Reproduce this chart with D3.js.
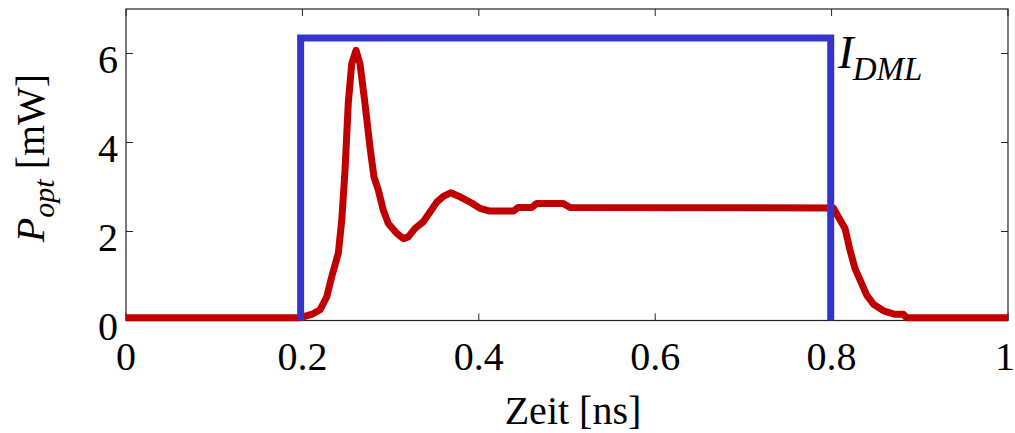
<!DOCTYPE html>
<html>
<head>
<meta charset="utf-8">
<script src="https://cdn.jsdelivr.net/npm/d3@7"></script>
<style>
  html, body { margin: 0; padding: 0; background: #fff; }
  svg { display: block; }
  text { font-family: "Liberation Serif", "Times New Roman", serif; fill: #000; }
</style>
</head>
<body>
<svg id="chart" width="1015" height="433"></svg>
<script>
// Optical output power of the laser (ns, mW)
const timeNs = [0, 0.197, 0.212, 0.220, 0.2276, 0.2332, 0.2407, 0.2446, 0.2483, 0.2520, 0.2559,
  0.2608, 0.2653, 0.2710, 0.2766, 0.2812, 0.2861, 0.2917, 0.2974, 0.3069, 0.3144, 0.3201,
  0.3277, 0.3371, 0.3447, 0.3523, 0.3598, 0.3681, 0.3787, 0.3919, 0.4014, 0.4127, 0.4391,
  0.4448, 0.4600, 0.4656, 0.4958, 0.5034, 0.802, 0.8076, 0.8152, 0.8209, 0.8265, 0.8341,
  0.8398, 0.8473, 0.8586, 0.8662, 0.8719, 0.8813, 0.8851, 1.0];
const powerMw = [0.06, 0.06, 0.15, 0.24, 0.53, 0.98, 1.51, 2.25, 3.37, 4.88, 5.77,
  6.07, 5.77, 4.87, 3.90, 3.22, 2.93, 2.48, 2.18, 1.96, 1.84, 1.88,
  2.07, 2.22, 2.44, 2.66, 2.79, 2.87, 2.78, 2.64, 2.52, 2.46, 2.46,
  2.54, 2.54, 2.63, 2.63, 2.54, 2.53, 2.33, 2.07, 1.58, 1.17, 0.83,
  0.57, 0.37, 0.22, 0.17, 0.14, 0.14, 0.06, 0.06];

// Drive current pulse (drawn in the same axes)
const pulseT = [0.198, 0.198, 0.799, 0.799];
const pulseI = [0, 6.35, 6.35, 0];

const xTicks = [0, 0.2, 0.4, 0.6, 0.8, 1];
const yTicks = [0, 2, 4, 6];

const svg = d3.select("#chart");
const plotL = 126, plotR = 1008, plotT = 9, plotB = 320.5;

const x = d3.scaleLinear().domain([0, 1]).range([plotL, plotR]);
const y = d3.scaleLinear().domain([0, 7]).range([plotB, plotT]);

const tickLen = 7;

// Ticks (inward) on all four sides
const axisG = svg.append("g").attr("stroke", "#222").attr("stroke-width", 1);
xTicks.forEach(t => {
  axisG.append("line").attr("x1", x(t)).attr("x2", x(t)).attr("y1", plotB).attr("y2", plotB - tickLen);
  axisG.append("line").attr("x1", x(t)).attr("x2", x(t)).attr("y1", plotT).attr("y2", plotT + tickLen);
});
yTicks.forEach(t => {
  axisG.append("line").attr("x1", plotL).attr("x2", plotL + tickLen).attr("y1", y(t)).attr("y2", y(t));
  axisG.append("line").attr("x1", plotR).attr("x2", plotR - tickLen).attr("y1", y(t)).attr("y2", y(t));
});

// Frame
svg.append("rect")
  .attr("x", plotL).attr("y", plotT)
  .attr("width", plotR - plotL).attr("height", plotB - plotT)
  .attr("fill", "none").attr("stroke", "#222").attr("stroke-width", 1.2);

// Tick labels; the last one is nudged left so it stays inside the figure
svg.append("g").selectAll("text").data(xTicks).join("text")
  .attr("x", d => x(d) - (d === 1 ? 3 : 0)).attr("y", 370)
  .attr("text-anchor", "middle").attr("font-size", 40)
  .text(d => d3.format("~g")(d));

svg.append("g").selectAll("text").data(yTicks).join("text")
  .attr("x", 118).attr("y", d => y(d) + 19)
  .attr("text-anchor", "end").attr("font-size", 40)
  .text(d => d);

// Axis titles
svg.append("text")
  .attr("x", (plotL + plotR) / 2 + 6).attr("y", 424)
  .attr("text-anchor", "middle").attr("font-size", 40)
  .text("Zeit [ns]");

const yTitle = svg.append("text")
  .attr("transform", "translate(44,158) rotate(-90)")
  .attr("text-anchor", "middle").attr("font-size", 40);
yTitle.append("tspan").attr("font-style", "italic").text("P");
yTitle.append("tspan").attr("font-style", "italic").attr("font-size", 30).attr("dy", 10).text("opt");
yTitle.append("tspan").attr("dy", -10).text(" [mW]");

// Curves
const line = d3.line().x(d => x(d[0])).y(d => y(d[1]));

svg.append("path")
  .datum(d3.zip(timeNs, powerMw))
  .attr("d", line)
  .attr("fill", "none")
  .attr("stroke", "#c00000")
  .attr("stroke-width", 7)
  .attr("stroke-linejoin", "round");

svg.append("path")
  .datum(d3.zip(pulseT, pulseI))
  .attr("d", line)
  .attr("fill", "none")
  .attr("stroke", "#3434cc")
  .attr("stroke-width", 7)
  .attr("stroke-linejoin", "miter");

// Pulse label
const lbl = svg.append("text")
  .attr("x", 838).attr("y", 68)
  .attr("font-size", 47).attr("font-style", "italic");
lbl.append("tspan").text("I");
lbl.append("tspan").attr("font-size", 33).attr("dy", 12).attr("dx", -1).text("DML");
</script>
</body>
</html>
